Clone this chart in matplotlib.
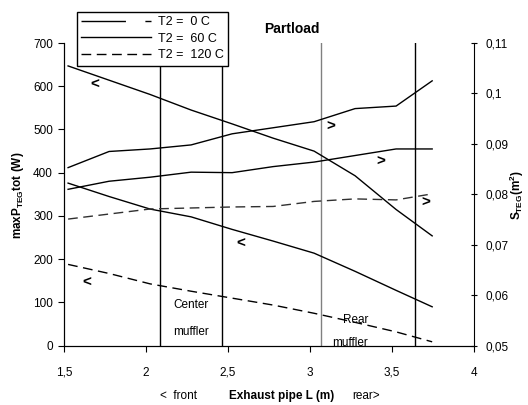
import matplotlib
matplotlib.use("Agg")
import matplotlib.pyplot as plt
from matplotlib.lines import Line2D

plt.rcParams['font.family'] = ['Liberation Sans', 'DejaVu Sans']
plt.rcParams['mathtext.fontset'] = 'custom'
plt.rcParams['mathtext.rm'] = 'Liberation Sans'
plt.rcParams['mathtext.bf'] = 'Liberation Sans:bold'

# pipe positions (m)
L = [1.525, 1.775, 2.025, 2.275, 2.525, 2.775, 3.025, 3.275, 3.525, 3.745]

# max TEG power (W), left axis
p_0c = [647, 614, 581, 545, 513, 480, 450, 393, 315, 254]
p_60c = [376, 345, 316, 298, 269, 242, 214, 172, 128, 90]
p_120c = [188, 167, 143, 126, 110, 94, 75, 54, 32, 9]

# TEG area (m2), right axis
s_0c = [0.0853, 0.0885, 0.0890, 0.0898, 0.0920, 0.0932, 0.0944, 0.0970, 0.0975, 0.1025]
s_60c = [0.0810, 0.0826, 0.0834, 0.0844, 0.0843, 0.0855, 0.0864, 0.0877, 0.0890, 0.0890]
s_120c = [0.0751, 0.0761, 0.0771, 0.0773, 0.0775, 0.0776, 0.0786, 0.0791, 0.0789, 0.0801]

# muffler boundaries
muffler_x = [2.087, 2.465, 3.066, 3.643]
muffler_col = ['black', 'black', '#808080', 'black']

labels = ['T2 =  0 C', 'T2 =  60 C', 'T2 =  120 C']

# arrows pointing to the axis a curve belongs to (x, P, sign)
arrows = [(1.690, 603, '<'), (2.576, 235, '<'), (1.639, 146, '<'),
          (3.127, 507, '>'), (3.433, 426, '>'), (3.708, 330, '>')]

fig = plt.figure(figsize=(5.28, 4.05), dpi=100)
ax = fig.add_axes([0.1212, 0.1464, 0.7765, 0.7474])
ax2 = ax.twinx()

for x, c in zip(muffler_x, muffler_col):
    ax.axvline(x, color=c, lw=1)

ax.plot(L, p_0c, color='black', lw=1)
ax.plot(L, p_60c, color='black', lw=1)
ax.plot(L, p_120c, color='black', lw=1, dashes=(7, 4))
ax2.plot(L, s_0c, color='black', lw=1)
ax2.plot(L, s_60c, color='black', lw=1)
ax2.plot(L, s_120c, color='#303030', lw=1, dashes=(7, 4))

ax.set_xlim(1.5, 4)
ax.set_ylim(0, 700)
ax2.set_ylim(0.05, 0.11)

ax.set_xticks([1.5, 2, 2.5, 3, 3.5, 4])
ax.set_xticklabels(['1,5', '2', '2,5', '3', '3,5', '4'])
ax.set_yticks(range(0, 701, 100))
ax2.set_yticks([0.05, 0.06, 0.07, 0.08, 0.09, 0.10, 0.11])
ax2.set_yticklabels(['0,05', '0,06', '0,07', '0,08', '0,09', '0,1', '0,11'])

for a in (ax, ax2):
    a.spines['top'].set_visible(False)
ax.spines['right'].set_visible(False)
ax.tick_params(axis='x', direction='out', length=4, pad=11, labelsize=8.5)
ax.tick_params(axis='y', direction='out', length=4, pad=4, labelsize=8.5)
ax2.tick_params(axis='y', direction='inout', length=5, pad=6, labelsize=8.5)

for x, p, s in arrows:
    ax.text(x, p, s, fontsize=11, fontweight='bold', ha='center', va='center')

ax.text(2.276, 95, 'Center', fontsize=8.5, ha='center', va='center')
ax.text(2.276, 32, 'muffler', fontsize=8.5, ha='center', va='center')
ax.text(3.28, 60, 'Rear', fontsize=8.5, ha='center', va='center')
ax.text(3.245, 6, 'muffler', fontsize=8.5, ha='center', va='center')

fig.text(292 / 528, 1 - 29 / 405, 'Partload', fontsize=10, fontweight='bold',
         ha='center', va='center')
fig.text(282 / 528, 1 - 396 / 405, 'Exhaust pipe L (m)', fontsize=8.5,
         fontweight='bold', ha='center', va='center')
fig.text(178 / 528, 1 - 396 / 405, '<  front', fontsize=8.5, ha='center', va='center')
fig.text(366 / 528, 1 - 396 / 405, 'rear>', fontsize=8.5, ha='center', va='center')
fig.text(18 / 528, 1 - 195 / 405, r'maxP$_{\mathbf{TEG}}$tot (W)', fontsize=8.5,
         fontweight='bold', rotation=90, ha='center', va='center')
fig.text(517 / 528, 1 - 195 / 405, r'S$_{\mathbf{TEG}}$(m$^{\mathbf{2}}$)', fontsize=8.5,
         fontweight='bold', rotation=90, ha='center', va='center')

handles = [Line2D([], [], color='black', lw=1, dashes=(32, 14)),
           Line2D([], [], color='black', lw=1),
           Line2D([], [], color='black', lw=1, dashes=(7, 4))]
leg = ax2.legend(handles, labels, loc='upper left',
                 bbox_to_anchor=(77 / 528, 1 - 12 / 405), bbox_transform=fig.transFigure,
                 borderaxespad=0, fancybox=False, framealpha=1, edgecolor='black',
                 fontsize=9, handlelength=5.6, handletextpad=0.5, labelspacing=0.35,
                 borderpad=0.35)
leg.get_frame().set_linewidth(1)

fig.savefig('out.png', dpi=100)
